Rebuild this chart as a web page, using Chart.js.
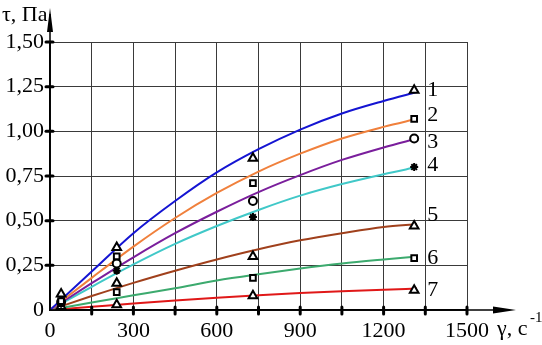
<!DOCTYPE html>
<html><head><meta charset="utf-8">
<script src="https://cdn.jsdelivr.net/npm/chart.js@4"></script>
<style>html,body{margin:0;padding:0;background:#fff}#w{width:542px;height:345px}</style>
</head><body><div id="w"><canvas id="c" width="542" height="345"></canvas></div>
<script>
const curveX = [0,150,300,450,600,750,900,1050,1200,1320];
const curve1 = [0,0.215,0.43,0.61,0.77,0.90,1.01,1.10,1.17,1.22];
const curve2 = [0,0.18,0.355,0.515,0.655,0.775,0.875,0.96,1.025,1.07];
const curve3 = [0,0.15,0.295,0.43,0.55,0.66,0.755,0.84,0.91,0.96];
const curve4 = [0,0.13,0.255,0.37,0.47,0.56,0.64,0.705,0.76,0.80];
const curve5 = [0,0.078,0.152,0.22,0.283,0.34,0.39,0.43,0.465,0.48];
const curve6 = [0,0.042,0.082,0.122,0.165,0.20,0.232,0.26,0.283,0.30];
const curve7 = [0,0.018,0.036,0.053,0.069,0.083,0.095,0.105,0.114,0.12];
const markerX = [40,240,730,1310];
const marker1 = [0.09,0.35,0.85,1.23];
const marker2 = [0.05,0.30,0.71,1.07];
const marker3 = [0.045,0.26,0.61,0.96];
const marker4 = [0.035,0.22,0.52,0.80];
const marker5 = [0.02,0.15,0.30,0.47];
const marker6 = [0.012,0.10,0.18,0.29];
const marker7 = [0.006,0.03,0.08,0.11];
const seriesNames = ['1','2','3','4','5','6','7'];
const nameY = [1.23,1.09,0.94,0.81,0.53,0.29,0.11];
const nameX = 1377;
const colors = ['#1414d2','#f0803c','#7a1e9c','#40c8c8','#a0401c','#3caa6e','#e01818'];
const markerStyles = ['triangle','rect','circle','star','triangle','rect','triangle'];
const curves = [curve1,curve2,curve3,curve4,curve5,curve6,curve7];
const markers = [marker1,marker2,marker3,marker4,marker5,marker6,marker7];

const datasets = [];
curves.forEach((c,i)=>{
  datasets.push({data:curveX.map((x,j)=>({x:x,y:c[j]})),showLine:true,borderColor:colors[i],borderWidth:2,pointRadius:0,cubicInterpolationMode:'monotone',fill:false,order:2});
});
markers.forEach((m,i)=>{
  datasets.push({data:markerX.map((x,j)=>({x:x,y:m[j]})),showLine:false,pointStyle:markerStyles[i],pointRadius:markerStyles[i]==='triangle'?5:4,pointBackgroundColor:'#fff',pointBorderColor:'#000',pointBorderWidth:2,order:1});
});

const FONT = '"Liberation Serif","Times New Roman",serif';
const deco = {
  id:'deco',
  afterDraw(ch){
    const ctx=ch.ctx, xs=ch.scales.x, ys=ch.scales.y;
    ctx.save();
    ctx.strokeStyle='#000'; ctx.fillStyle='#000'; ctx.lineWidth=1.5;
    const x0=xs.getPixelForValue(0), y0=ys.getPixelForValue(0);
    ctx.beginPath(); ctx.moveTo(x0,y0); ctx.lineTo(x0,14); ctx.stroke();
    ctx.beginPath(); ctx.moveTo(x0,8); ctx.lineTo(x0-3,32); ctx.lineTo(x0+3,32); ctx.closePath(); ctx.fill();
    ctx.beginPath(); ctx.moveTo(x0,y0); ctx.lineTo(505,y0); ctx.stroke();
    ctx.beginPath(); ctx.moveTo(516,y0); ctx.lineTo(493,y0-3.5); ctx.lineTo(493,y0+3.5); ctx.closePath(); ctx.fill();
    ctx.lineWidth=3; ctx.lineCap='round';
    for(let v=150; v<=1500; v+=150){const p=xs.getPixelForValue(v); ctx.beginPath(); ctx.moveTo(p,y0-3); ctx.lineTo(p,y0+4); ctx.stroke();}
    for(let v=0.25; v<=1.5001; v+=0.25){const p=ys.getPixelForValue(v); ctx.beginPath(); ctx.moveTo(x0-4,p); ctx.lineTo(x0+3,p); ctx.stroke();}
    ctx.font='22px '+FONT; ctx.textAlign='center'; ctx.textBaseline='middle';
    seriesNames.forEach((n,i)=>{ctx.fillText(n, xs.getPixelForValue(nameX), ys.getPixelForValue(nameY[i]));});
    ctx.textAlign='left'; ctx.textBaseline='alphabetic';
    ctx.fillText('τ, Па', 2, 21);
    ctx.fillText('γ, с', 497, 335);
    ctx.font='15px '+FONT;
    ctx.fillText('-1', 530, 322);
    ctx.restore();
  }
};

new Chart(document.getElementById('c'),{
  type:'scatter',
  data:{datasets},
  options:{
    responsive:false, animation:false,
    layout:{padding:{top:42,right:75,left:0,bottom:0}},
    plugins:{legend:{display:false},tooltip:{enabled:false}},
    scales:{
      x:{type:'linear',min:0,max:1500,
        afterFit(s){s.height=35;},
        grid:{color:'#3a3a3a',lineWidth:1,drawTicks:false},
        border:{display:true,color:'#000',width:1.5},
        ticks:{stepSize:150,padding:8,color:'#000',font:{family:FONT,size:22},maxRotation:0,autoSkip:false,
          callback:(v)=> (v%300===0? String(v):'')}},
      y:{type:'linear',min:0,max:1.5,
        afterFit(s){s.width=50;},
        grid:{color:'#3a3a3a',lineWidth:1,drawTicks:false},
        border:{display:true,color:'#000',width:1.5},
        ticks:{stepSize:0.25,padding:6,color:'#000',font:{family:FONT,size:22},
          callback:(v)=> (v===0?'0':v.toFixed(2).replace('.',','))}}
    }
  },
  plugins:[deco]
});
</script></body></html>
